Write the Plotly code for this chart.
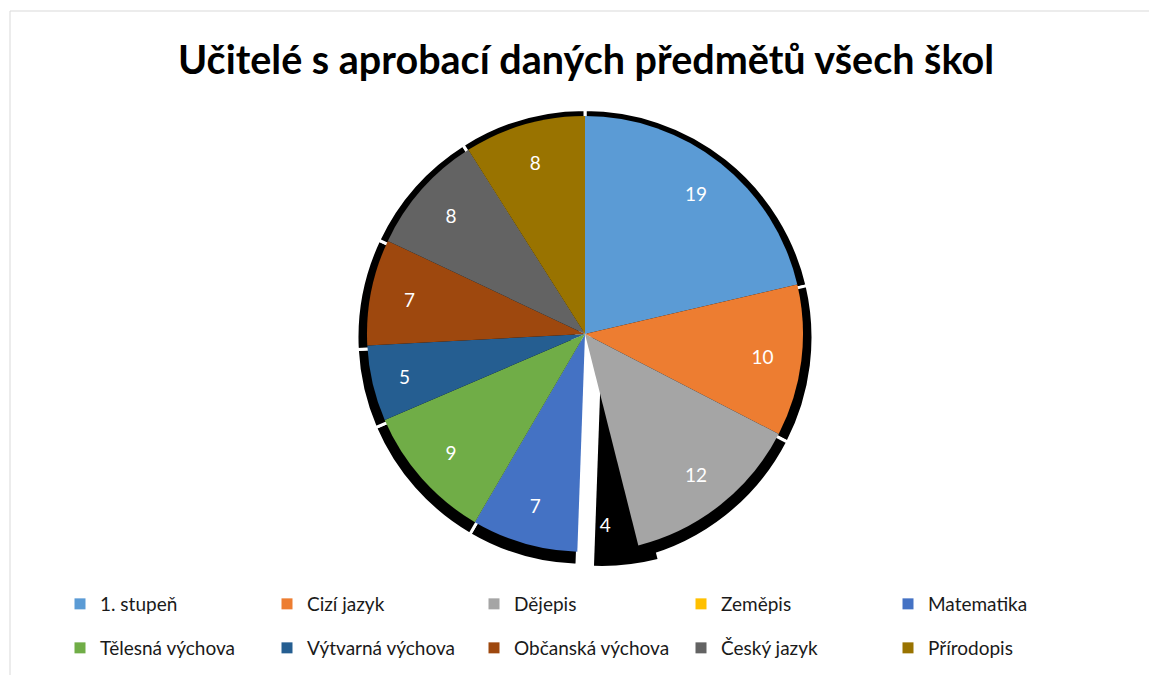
import plotly.graph_objects as go

categories = ["1. stupeň", "Cizí jazyk", "Dějepis", "Zeměpis", "Matematika",
              "Tělesná výchova", "Výtvarná výchova", "Občanská výchova", "Český jazyk", "Přírodopis"]
values = [19, 10, 12, 4, 7, 9, 5, 7, 8, 8]
colors = ["#5B9BD5", "#ED7D31", "#A5A5A5", "#FFC000", "#4472C4",
          "#70AD47", "#255E91", "#9E480E", "#636363", "#997300"]

ML, MR, MT, MB = 10, 0, 11, 0
W, H = 1149 - ML - MR, 675 - MT - MB

def dom(cx, cy, r):
    return dict(x=[(cx - r - ML) / W, (cx + r - ML) / W],
                y=[1 - (cy + r - MT) / H, 1 - (cy - r - MT) / H])

main_dom = dom(585, 334, 218)
shadow_dom = dom(585, 337.5, 228)
zem_dom = dom(602, 339, 227)

zi = categories.index("Zeměpis")
TR = "rgba(0,0,0,0)"

common = dict(labels=categories, values=values, sort=False, direction="clockwise",
              rotation=0, showlegend=False, hoverinfo="skip")

fig = go.Figure()
# 1) shadow ring
fig.add_trace(go.Pie(**common, domain=shadow_dom, textinfo="none",
                     marker=dict(colors=["#000000" if i != zi else TR for i in range(len(values))],
                                 line=dict(color="white", width=3))))
# 2) shifted shadow of the (unfilled) Zeměpis slice
fig.add_trace(go.Pie(**common, domain=zem_dom, textinfo="none",
                     marker=dict(colors=["#000000" if i == zi else TR for i in range(len(values))],
                                 line=dict(width=0))))
# 3) main pie
fig.add_trace(go.Pie(**common, domain=main_dom, textinfo="none",
                     marker=dict(colors=[c if i != zi else TR for i, c in enumerate(colors)],
                                 line=dict(width=0))))
# 4) transparent ring carrying the value labels
fig.add_trace(go.Pie(**common, domain=main_dom, hole=0.64, textinfo="value", textposition="inside",
                     insidetextorientation="horizontal",
                     insidetextfont=dict(color="white", size=19, family="Lato"),
                     marker=dict(colors=[TR] * len(values), line=dict(width=0))))

# legend entries
for i, (cat, col) in enumerate(zip(categories, colors)):
    fig.add_trace(go.Scatter(x=[None], y=[None], mode="markers", name=cat,
                             marker=dict(symbol="square", size=11, color=col),
                             legend="legend" if i < 5 else "legend2"))

leg_common = dict(orientation="h", xanchor="left", yanchor="middle",
                  font=dict(family="Lato", size=19, color="#1a1a1a"),
                  entrywidth=162, entrywidthmode="pixels", itemwidth=30,
                  bgcolor="rgba(0,0,0,0)", traceorder="normal")

fig.update_layout(
    width=1149, height=675,
    margin=dict(l=ML, r=MR, t=MT, b=MB),
    paper_bgcolor="white", plot_bgcolor="white",
    title=dict(text="<b>Učitelé s aprobací daných předmětů všech škol</b>",
               x=(586 - ML) / W, xref="paper", xanchor="center",
               y=1 - 60 / 675, yref="container", yanchor="middle",
               font=dict(family="Lato", size=39.5, color="#000000")),
    xaxis=dict(visible=False), yaxis=dict(visible=False),
    legend=dict(**leg_common, x=(60 - ML) / W, y=1 - (604 - MT) / H),
    legend2=dict(**leg_common, x=(60 - ML) / W, y=1 - (648 - MT) / H),
    shapes=[dict(type="rect", xref="paper", yref="paper", x0=0, x1=1.05, y0=-0.05, y1=1,
                 line=dict(color="#d9d9d9", width=1), fillcolor="rgba(0,0,0,0)", layer="below")],
)

fig.write_html("out.html", config={"displayModeBar": False},
               post_script="document.body.style.margin='0';")
